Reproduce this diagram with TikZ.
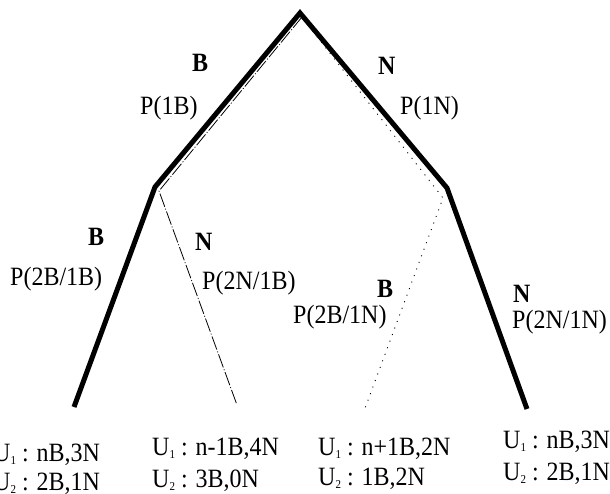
\documentclass[tikz,border=0pt]{standalone}
\usepackage{fontspec}
\usepackage{graphicx}
\setmainfont{Liberation Serif}
\newcommand\vstr[1]{\scalebox{1}[1.1]{#1}}
\newcommand\usub[1]{\raisebox{-3pt}{\fontsize{11}{11}\selectfont #1}}
\tikzset{
  thickedge/.style={line width=5pt, line join=miter},
  dashedge/.style={line width=0.8pt, dash pattern=on 14pt off 2pt on 1pt off 2pt},
  dotedge/.style={line width=0.9pt, dash pattern=on 1pt off 6pt},
  lbl/.style={anchor=base west, inner sep=0pt, font=\fontsize{24}{28}\selectfont},
  blbl/.style={lbl, font=\fontsize{24}{28}\selectfont\bfseries},
}
\begin{document}
\begin{tikzpicture}[x=1pt,y=-1pt]
\useasboundingbox (0,0) rectangle (610,494);
% tree points
\coordinate (root) at (300,13);
\coordinate (L) at (155,187);
\coordinate (R) at (447,188);
\coordinate (LL) at (74,407);
\coordinate (RR) at (527,409);
\coordinate (rootA) at (302,17);
\coordinate (Lin) at (159,191);
\coordinate (LR) at (237,405);
\coordinate (rootB) at (304,20);
\coordinate (Rin) at (443,198);
\coordinate (RL) at (364,411);
% edges
\draw[thickedge] (LL) -- (L) -- (root) -- (R) -- (RR);
\draw[dashedge] (rootA) -- (Lin) -- (LR);
\draw[dotedge] (rootB) -- (Rin) -- (RL);
% labels
\node[blbl] (b1) at (192,72) {\vstr{B}};
\node[lbl] (p1b) at (140,115) {\vstr{P(1B)}};
\node[blbl] (n1) at (378,75) {\vstr{N}};
\node[lbl] (p1n) at (400,115) {\vstr{P(1N)}};
\node[blbl] (b2) at (88,246) {\vstr{B}};
\node[lbl] (p2b1b) at (10,286) {\vstr{P(2B/1B)}};
\node[blbl] (n2) at (195,251) {\vstr{N}};
\node[lbl] (p2n1b) at (202,290) {\vstr{P(2N/1B)}};
\node[blbl] (b3) at (377,297) {\vstr{B}};
\node[lbl] (p2b1n) at (293,323) {\vstr{P(2B/1N)}};
\node[blbl] (n3) at (513,302) {\vstr{N}};
\node[lbl] (p2n1n) at (512,328) {\vstr{P(2N/1N)}};
% outcomes
\node[lbl] (o1a) at (-7,461) {\vstr{U\usub{1} : nB,3N}};
\node[lbl] (o1b) at (-7,490) {\vstr{U\usub{2} : 2B,1N}};
\node[lbl] (o2a) at (152,455) {\vstr{U\usub{1} : n-1B,4N}};
\node[lbl] (o2b) at (152,487) {\vstr{U\usub{2} : 3B,0N}};
\node[lbl] (o3a) at (318,455) {\vstr{U\usub{1} : n+1B,2N}};
\node[lbl] (o3b) at (318,485) {\vstr{U\usub{2} : 1B,2N}};
\node[lbl] (o4a) at (503,448) {\vstr{U\usub{1} : nB,3N}};
\node[lbl] (o4b) at (503,480) {\vstr{U\usub{2} : 2B,1N}};
\end{tikzpicture}
\end{document}
